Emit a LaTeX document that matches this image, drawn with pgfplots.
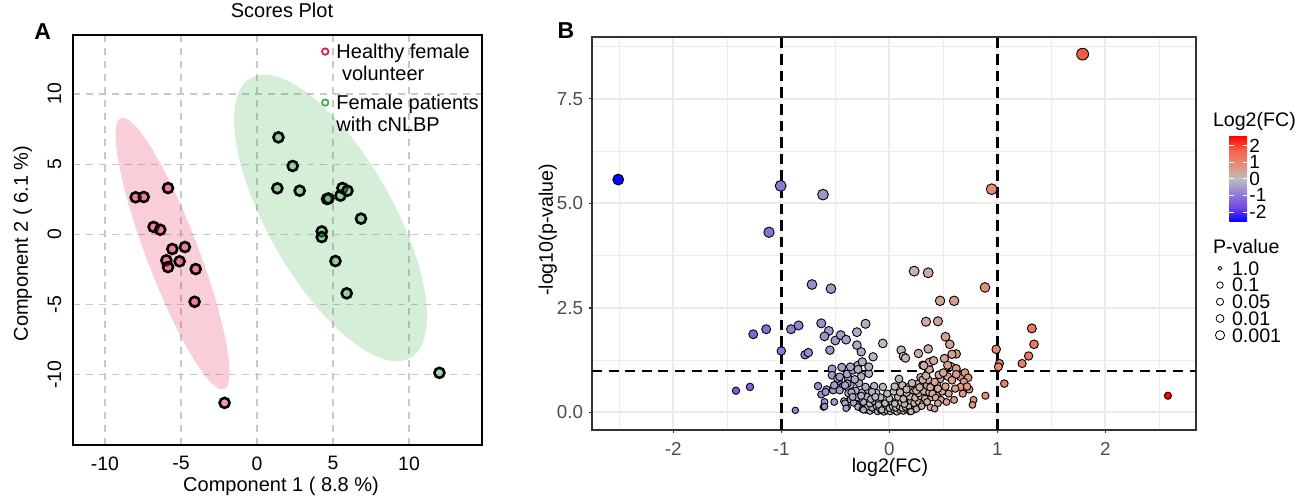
\documentclass[border=0pt]{standalone}
\usepackage{fontspec}
\setmainfont{Liberation Sans}
\usepackage{pgfplots}
\pgfplotsset{compat=1.18}
\usepackage{pgfplotstable}

\definecolor{hred}{RGB}{226,30,78}
\definecolor{pgreen}{RGB}{62,176,78}
\definecolor{gridB}{RGB}{235,235,235}
\definecolor{frameB}{RGB}{51,51,51}
\definecolor{tickB}{RGB}{77,77,77}
\definecolor{gridA}{RGB}{200,200,200}

\pgfplotstableread{
x y
-7.98 2.64
-7.45 2.66
-5.85 3.30
-6.80 0.53
-6.36 0.33
-5.57 -1.04
-4.74 -0.90
-5.96 -1.85
-5.85 -2.33
-5.09 -1.92
-4.03 -2.47
-4.10 -4.80
-2.13 -12.00
}\healthy

\pgfplotstableread{
x y
1.41 6.91
2.35 4.87
1.34 3.28
2.81 3.11
4.61 2.52
4.70 2.55
5.49 2.76
5.62 3.30
5.95 3.11
6.84 1.12
4.26 0.21
4.26 -0.19
5.16 -1.90
5.90 -4.20
12.00 -9.86
}\patients

\pgfplotstableread{
x y
-0.22 0.06
-0.18 0.03
-0.14 0.07
-0.11 0.02
-0.08 0.05
-0.05 0.01
-0.02 0.04
0.01 0.02
0.04 0.06
0.07 0.01
0.10 0.05
0.13 0.03
0.16 0.07
0.19 0.02
0.22 0.05
-0.27 0.12
-0.20 0.14
-0.16 0.11
-0.12 0.15
-0.09 0.10
-0.06 0.13
-0.03 0.16
0.00 0.10
0.03 0.14
0.06 0.11
0.09 0.15
0.12 0.10
0.15 0.13
0.18 0.16
0.24 0.12
0.28 0.14
-0.31 0.22
-0.24 0.25
-0.18 0.21
-0.14 0.27
-0.10 0.23
-0.04 0.22
0.02 0.26
0.05 0.21
0.11 0.24
0.14 0.20
0.20 0.27
0.23 0.22
0.27 0.26
0.31 0.21
0.35 0.28
-0.36 0.31
-0.28 0.34
-0.21 0.38
-0.17 0.32
-0.08 0.36
0.00 0.33
0.08 0.37
0.13 0.32
0.19 0.38
0.24 0.35
0.29 0.39
0.33 0.33
0.39 0.36
0.44 0.40
-0.38 0.46
-0.31 0.52
-0.25 0.48
-0.20 0.54
-0.12 0.47
0.04 0.50
0.16 0.47
0.22 0.53
0.27 0.46
0.32 0.51
0.37 0.48
0.41 0.55
0.49 0.50
-0.43 0.62
-0.36 0.66
-0.28 0.70
-0.14 0.63
0.12 0.65
0.18 0.61
0.26 0.68
0.35 0.64
0.44 0.67
0.52 0.62
-0.47 0.76
-0.38 0.82
-0.26 0.86
0.09 0.80
0.29 0.84
0.36 0.78
0.47 0.80
0.54 0.86
-0.53 1.04
-0.44 1.08
-0.39 0.92
-0.34 1.01
-0.29 1.13
-0.25 1.21
-0.53 0.89
-0.48 0.81
-0.39 0.69
-0.66 0.63
-0.58 0.55
-0.52 0.53
-0.46 0.53
-0.63 0.43
-0.60 0.25
-0.61 0.13
-0.51 0.25
-0.42 0.27
-0.39 0.13
-0.33 0.23
-0.29 0.13
-0.25 0.08
-0.30 0.36
-0.26 0.40
-0.35 0.48
-0.29 1.03
-0.22 0.61
-0.19 0.93
-0.19 1.09
-0.16 0.49
-0.13 0.37
-0.10 0.18
-0.07 0.06
-0.06 0.61
-0.02 0.45
-0.32 0.79
-0.41 0.65
-0.46 0.85
-0.36 1.09
-0.59 0.49
-0.51 0.65
-0.41 0.22
-0.40 0.10
-0.34 0.37
-0.24 0.06
-0.60 0.14
0.05 0.62
0.10 0.48
0.16 0.55
0.21 0.70
0.25 0.52
0.28 0.60
0.31 0.78
0.34 0.88
0.38 0.60
0.40 0.45
0.43 0.35
0.46 0.90
0.48 0.30
0.35 0.25
0.30 0.15
0.25 0.08
0.20 0.02
0.38 0.12
0.45 0.22
0.50 0.95
0.55 0.45
0.57 1.10
0.60 0.30
0.66 0.85
0.70 0.95
0.68 0.45
0.74 0.55
0.31 1.13
0.37 1.03
-2.51 5.57
-1.006 5.42
-0.614 5.21
-1.114 4.31
0.948 5.34
1.79 8.57
2.58 0.40
-1.42 0.52
-1.29 0.61
-1.26 1.87
-1.14 1.99
-1.00 1.47
-0.91 1.99
-0.84 2.08
-0.87 0.05
-0.78 1.38
-0.75 1.43
-0.716 3.06
-0.54 2.96
-0.63 2.13
-0.56 1.95
-0.60 1.82
-0.50 1.72
-0.45 1.85
-0.40 1.74
-0.30 1.92
-0.22 2.12
-0.30 1.61
-0.26 1.45
-0.55 1.49
-0.06 1.65
-0.15 1.33
0.11 1.49
0.13 1.34
0.15 1.30
0.23 3.38
0.36 3.34
0.886 2.99
0.47 2.67
0.60 2.67
0.34 2.17
0.45 2.18
0.52 1.81
0.56 1.63
0.62 1.40
0.58 1.39
0.51 1.29
0.54 1.13
0.27 1.41
0.36 1.52
0.37 1.20
0.32 1.12
0.41 1.24
0.99 1.51
1.02 1.17
1.01 1.09
1.065 0.69
0.89 0.40
0.78 0.30
0.77 0.18
0.53 0.25
0.62 1.05
0.73 0.83
0.69 0.73
0.62 0.91
0.58 0.77
0.66 0.61
0.72 0.62
0.61 0.57
0.42 0.73
0.45 0.57
0.42 0.09
1.32 2.01
1.34 1.63
1.29 1.35
1.23 1.17
}\volcano

\begin{document}
\begin{tikzpicture}
\path[use as bounding box] (0,0) rectangle (649pt,248pt);

% ---------------- Panel A ----------------
\begin{axis}[
  at={(36.5pt,25.5pt)}, anchor=south west,
  scale only axis, width=204.5pt, height=205pt,
  xmin=-12.1, xmax=14.8, ymin=-15, ymax=14.2,
  xtick={-10,-5,0,5,10}, xticklabels={-10,-5,0,5,10},
  ytick={-10,-5,0,5,10}, yticklabels={-10,-5,0,5,10},
  major tick length=0pt,
  grid=major,
  grid style={gridA, line width=0.6pt, dash pattern=on 3.5pt off 3pt},
  axis line style={black, line width=1.1pt},
  tick label style={font=\fontsize{9.7}{11}\selectfont, inner sep=0pt},
  xticklabel shift=5.6pt,
  yticklabel style={rotate=90, anchor=south},
  yticklabel shift=5.6pt,
  title={Scores Plot},
  title style={at={(axis description cs:0.511,1.030)}, anchor=center, font=\fontsize{10}{12}\selectfont, inner sep=0pt},
  xlabel={Component 1 ( 8.8 \%)},
  xlabel style={at={(axis description cs:0.5086,-0.1017)}, anchor=center, font=\fontsize{10}{12}\selectfont, inner sep=0pt},
  ylabel={Component 2 ( 6.1 \%)},
  ylabel style={at={(axis description cs:-0.123,0.4915)}, anchor=center, font=\fontsize{10}{12}\selectfont, inner sep=0pt},
  legend image code/.code={\draw[#1] plot coordinates {(2.2pt,3.3pt)};},
  legend style={at={(rel axis cs:0.608,0.982)}, anchor=north west, draw=none, fill=none,
    inner sep=0pt, column sep=4pt, row sep=3.5pt,
    font=\fontsize{10}{11}\selectfont,
    nodes={inner sep=0pt, text depth=, text height=, anchor=base west}},
]
\fill[hred, opacity=0.22, rotate around={-69.2:(axis cs:-5.55,-1.37)}]
  (axis cs:-5.55,-1.37) ellipse [x radius=72.5pt, y radius=13pt];
\fill[pgreen, opacity=0.22, rotate around={-60.3:(axis cs:4.84,1.17)}]
  (axis cs:4.84,1.17) ellipse [x radius=80.5pt, y radius=31.25pt];
\addplot[only marks, mark=*, mark size=2.5pt, forget plot,
  mark options={draw=black, line width=1.3pt, fill=hred, fill opacity=0.45, draw opacity=1}]
  table {\healthy};
\addplot[only marks, mark=*, mark size=2.5pt, forget plot,
  mark options={draw=black, line width=1.3pt, fill=pgreen, fill opacity=0.45, draw opacity=1}]
  table {\patients};
\addlegendimage{only marks, mark=o, mark size=1.6pt, line width=0.9pt, draw=hred}
\addlegendentry{\begin{tabular}[t]{@{}l@{}}Healthy female\\\ volunteer\end{tabular}}
\addlegendimage{only marks, mark=o, mark size=1.6pt, line width=0.9pt, draw=pgreen}
\addlegendentry{\begin{tabular}[t]{@{}l@{}}Female patients\\with cNLBP\end{tabular}}
\end{axis}

\node[font=\bfseries\fontsize{11.5}{13}\selectfont, inner sep=0pt] at (21.4pt,232.3pt) {A};

% ---------------- Panel B ----------------
\begin{axis}[
  at={(296pt,33pt)}, anchor=south west,
  scale only axis, width=302pt, height=196.5pt,
  xmin=-2.753, xmax=2.84, ymin=-0.42, ymax=8.98,
  xtick={-2,-1,0,1,2}, xticklabels={-2,-1,0,1,2},
  ytick={0,2.5,5,7.5}, yticklabels={0.0,2.5,5.0,7.5},
  minor xtick={-2.5,-1.5,-0.5,0.5,1.5,2.5},
  minor ytick={1.25,3.75,6.25,8.75},
  grid=both,
  major grid style={gridB, line width=1pt},
  minor grid style={gridB, line width=0.55pt},
  tick align=outside, major tick length=1.6pt, minor tick length=0pt,
  xtick pos=bottom, ytick pos=left,
  tick style={frameB, line width=0.6pt},
  axis line style={frameB, line width=1.1pt},
  tick label style={font=\fontsize{9.4}{11}\selectfont, text=tickB, inner sep=0pt},
  xticklabel shift=4.4pt,
  yticklabel shift=2.7pt,
  xlabel={log2(FC)},
  xlabel style={at={(axis description cs:0.4934,-0.0941)}, anchor=center, font=\fontsize{9.8}{12}\selectfont, inner sep=0pt},
  ylabel={-log10(p-value)},
  ylabel style={at={(axis description cs:-0.073,0.509)}, anchor=center, font=\fontsize{9.8}{12}\selectfont, inner sep=0pt},
  colormap={volc}{rgb255=(0,0,255) rgb255=(115,70,230) rgb255=(150,128,214) rgb255=(190,190,190) rgb255=(228,142,120) rgb255=(242,100,72) rgb255=(255,0,0)},
  point meta min=-2.58, point meta max=2.58,
  colorbar,
  colorbar style={
    at={(parent axis.north east)}, anchor=north west,
    xshift=8.15pt, yshift=-49.35pt,
    scale only axis, width=8.85pt, height=43pt,
    ytick={-2,-1,0,1,2}, yticklabels={-2,-1,0,1,2},
    yticklabel style={font=\fontsize{9.5}{10}\selectfont, text=black, inner sep=0pt},
    yticklabel shift=1pt,
    tick align=inside, major tick length=2.2pt,
    ytick pos=both, yticklabel pos=right,
    tick style={white, line width=0.5pt},
    axis line style={draw=none},
  },
  legend image code/.code={\draw[#1] plot coordinates {(2.5pt,3.45pt)};},
  legend style={at={(rel axis cs:1.0315,0.4298)}, anchor=north west, draw=none, fill=none,
    inner sep=0pt, column sep=3.7pt, row sep=1.45pt,
    font=\fontsize{9.8}{10}\selectfont,
    nodes={inner sep=0pt, text height=6.9pt, text depth=0pt, anchor=base west}},
]
\addplot[black, line width=1.5pt, dash pattern=on 5.3pt off 3pt, forget plot]
  coordinates {(-1,-0.42) (-1,8.98)};
\addplot[black, line width=1.5pt, dash pattern=on 5.3pt off 3pt, forget plot]
  coordinates {(1,-0.42) (1,8.98)};
\addplot[black, line width=1pt, dash pattern=on 5pt off 3.3pt, forget plot]
  coordinates {(-2.753,1) (2.84,1)};
\addplot[scatter, only marks, mark=*, scatter src=x, forget plot,
  scatter/use mapped color={draw=black, fill=mapped color},
  visualization depends on={\thisrow{y} \as \py},
  scatter/@pre marker code/.append style={/tikz/mark size={1.6+0.6*ln(1+\py)}},
  mark options={line width=0.45pt}]
  table {\volcano};
\addlegendimage{only marks, mark=o, mark size=0.97pt, black, line width=0.4pt}
\addlegendentry{1.0}
\addlegendimage{only marks, mark=o, mark size=1.63pt, black, line width=0.4pt}
\addlegendentry{0.1}
\addlegendimage{only marks, mark=o, mark size=1.8pt, black, line width=0.4pt}
\addlegendentry{0.05}
\addlegendimage{only marks, mark=o, mark size=1.97pt, black, line width=0.4pt}
\addlegendentry{0.01}
\addlegendimage{only marks, mark=o, mark size=2.3pt, black, line width=0.4pt}
\addlegendentry{0.001}
\end{axis}

\node[font=\bfseries\fontsize{11.5}{13}\selectfont, inner sep=0pt] at (283pt,232.7pt) {B};
\node[anchor=west, inner sep=0pt, font=\fontsize{9.8}{11}\selectfont] at (606.3pt,187.5pt) {Log2(FC)};
\node[anchor=west, inner sep=0pt, font=\fontsize{9.8}{11}\selectfont] at (606.3pt,124.7pt) {P-value};
\end{tikzpicture}
\end{document}
